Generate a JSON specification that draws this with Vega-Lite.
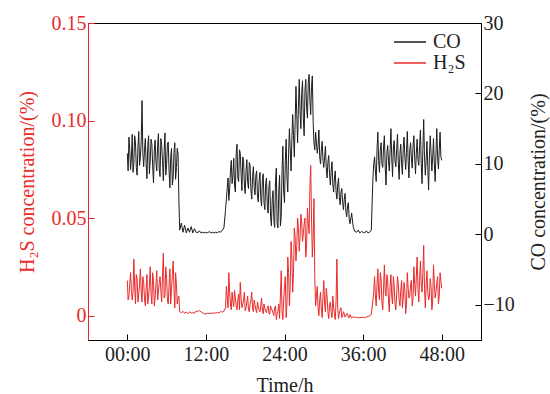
{
  "$schema": "https://vega.github.io/schema/vega-lite/v6.json",
  "width": 393,
  "height": 317,
  "autosize": "none",
  "padding": {"left": 88, "top": 23, "right": 69, "bottom": 54},
  "background": "white",
  "config": {
    "font": "Liberation Serif",
    "view": {"stroke": "black", "strokeWidth": 1},
    "axis": {"grid": false, "labelFont": "Liberation Serif", "titleFont": "Liberation Serif", "labelFontSize": 20, "titleFontSize": 20, "titleFontWeight": "normal", "tickSize": -6, "domainColor": "black", "tickColor": "black", "labelColor": "#222", "titleColor": "#222"},
    "legend": {"labelFont": "Liberation Serif"}
  },
  "data": {"values": [
    {"t":0,"co":11.5,"h":0.018},{"t":0.25,"co":13.8,"h":0.010},{"t":0.5,"co":9.2,"h":0.022},{"t":0.75,"co":14.2,"h":0.008},
    {"t":1.0,"co":10.1,"h":0.029},{"t":1.25,"co":13.0,"h":0.006},{"t":1.5,"co":8.4,"h":0.019},{"t":1.75,"co":14.6,"h":0.011},
    {"t":2.0,"co":11.0,"h":0.024},{"t":2.25,"co":19.0,"h":0.007},{"t":2.5,"co":9.6,"h":0.017},{"t":2.75,"co":13.6,"h":0.005},
    {"t":3.0,"co":7.9,"h":0.021},{"t":3.25,"co":14.0,"h":0.010},{"t":3.5,"co":10.4,"h":0.025},{"t":3.75,"co":12.8,"h":0.006},
    {"t":4.0,"co":7.3,"h":0.018},{"t":4.25,"co":13.4,"h":0.009},{"t":4.5,"co":9.0,"h":0.023},{"t":4.75,"co":14.3,"h":0.012},
    {"t":5.0,"co":8.2,"h":0.020},{"t":5.25,"co":12.6,"h":0.007},{"t":5.5,"co":7.6,"h":0.032},{"t":5.75,"co":14.4,"h":0.010},
    {"t":6.0,"co":9.9,"h":0.019},{"t":6.25,"co":13.1,"h":0.006},{"t":6.5,"co":6.6,"h":0.024},{"t":6.75,"co":12.2,"h":0.013},
    {"t":7.0,"co":8.0,"h":0.028},{"t":7.25,"co":13.0,"h":0.004},{"t":7.5,"co":9.5,"h":0.016},{"t":7.75,"co":11.4,"h":0.009},
    {"t":8.0,"co":0.6,"h":0.002},{"t":8.25,"co":1.6,"h":0.0015},{"t":8.5,"co":0.3,"h":0.0022},{"t":8.75,"co":1.3,"h":0.0012},
    {"t":9.0,"co":0.2,"h":0.0018},{"t":9.25,"co":0.9,"h":0.0010},{"t":9.5,"co":0.3,"h":0.0020},{"t":9.75,"co":1.1,"h":0.0013},
    {"t":10.0,"co":0.2,"h":0.0017},{"t":10.25,"co":0.8,"h":0.0011},{"t":10.5,"co":0.3,"h":0.0024},{"t":10.75,"co":0.2,"h":0.0021},
    {"t":11.0,"co":0.5,"h":0.0026},{"t":11.25,"co":0.2,"h":0.0019},{"t":11.5,"co":0.3,"h":0.0014},{"t":11.75,"co":0.2,"h":0.0009},
    {"t":12.0,"co":0.3,"h":0.0008},{"t":12.25,"co":0.2,"h":0.0012},{"t":12.5,"co":0.4,"h":0.0010},{"t":12.75,"co":0.2,"h":0.0013},
    {"t":13.0,"co":0.3,"h":0.0011},{"t":13.25,"co":0.2,"h":0.0015},{"t":13.5,"co":0.3,"h":0.0012},{"t":13.75,"co":0.2,"h":0.0016},
    {"t":14.0,"co":0.4,"h":0.0014},{"t":14.25,"co":0.3,"h":0.0021},{"t":14.5,"co":0.6,"h":0.0018},{"t":14.75,"co":0.9,"h":0.0023},
    {"t":15.0,"co":3.5,"h":0.0040},{"t":15.25,"co":6.5,"h":0.0100},{"t":15.5,"co":4.8,"h":0.0220},{"t":15.75,"co":9.0,"h":0.0060},
    {"t":16.0,"co":7.2,"h":0.0120},{"t":16.25,"co":10.8,"h":0.0045},{"t":16.5,"co":6.0,"h":0.0090},{"t":16.75,"co":12.8,"h":0.0030},
    {"t":17.0,"co":7.5,"h":0.0110},{"t":17.25,"co":11.5,"h":0.0170},{"t":17.5,"co":6.2,"h":0.0040},{"t":17.75,"co":10.5,"h":0.0080},
    {"t":18.0,"co":5.8,"h":0.0025},{"t":18.25,"co":10.6,"h":0.0070},{"t":18.5,"co":6.5,"h":0.0030},{"t":18.75,"co":9.8,"h":0.0060},
    {"t":19.0,"co":5.0,"h":0.0120},{"t":19.25,"co":9.6,"h":0.0020},{"t":19.5,"co":5.6,"h":0.0055},{"t":19.75,"co":9.0,"h":0.0015},
    {"t":20.0,"co":4.6,"h":0.0045},{"t":20.25,"co":8.8,"h":0.0020},{"t":20.5,"co":4.0,"h":0.0090},{"t":20.75,"co":8.6,"h":0.0010},
    {"t":21.0,"co":3.5,"h":0.0035},{"t":21.25,"co":8.0,"h":0.0015},{"t":21.5,"co":3.0,"h":0.0050},{"t":21.75,"co":7.6,"h":0.0008},
    {"t":22.0,"co":1.2,"h":0.0030},{"t":22.25,"co":6.2,"h":0.0012},{"t":22.5,"co":1.0,"h":0.0040},{"t":22.75,"co":9.4,"h":-0.0020},
    {"t":23.0,"co":0.9,"h":0.0020},{"t":23.25,"co":8.4,"h":-0.0015},{"t":23.5,"co":2.5,"h":0.0230},{"t":23.75,"co":12.5,"h":-0.0020},
    {"t":24.0,"co":4.5,"h":0.0150},{"t":24.25,"co":13.5,"h":-0.0010},{"t":24.5,"co":6.0,"h":0.0300},{"t":24.75,"co":15.0,"h":0.0050},
    {"t":25.0,"co":9.0,"h":0.0380},{"t":25.25,"co":17.0,"h":0.0120},{"t":25.5,"co":11.0,"h":0.0450},{"t":25.75,"co":21.0,"h":0.0280},
    {"t":26.0,"co":13.0,"h":0.0500},{"t":26.25,"co":22.0,"h":0.0330},{"t":26.5,"co":15.0,"h":0.0520},{"t":26.75,"co":21.8,"h":0.0380},
    {"t":27.0,"co":14.0,"h":0.0470},{"t":27.25,"co":22.0,"h":0.0300},{"t":27.5,"co":16.5,"h":0.0550},{"t":27.75,"co":22.7,"h":0.0420},
    {"t":28.0,"co":17.0,"h":0.0770},{"t":28.25,"co":22.5,"h":0.0300},{"t":28.5,"co":13.0,"h":0.0600},{"t":28.75,"co":14.5,"h":0.0050},
    {"t":29.0,"co":11.5,"h":0.0150},{"t":29.25,"co":14.8,"h":0.0000},{"t":29.5,"co":10.0,"h":0.0120},{"t":29.75,"co":13.2,"h":-0.0010},
    {"t":30.0,"co":9.5,"h":0.0180},{"t":30.25,"co":12.5,"h":0.0020},{"t":30.5,"co":8.0,"h":0.0100},{"t":30.75,"co":11.2,"h":-0.0015},
    {"t":31.0,"co":7.0,"h":0.0070},{"t":31.25,"co":10.3,"h":-0.0010},{"t":31.5,"co":6.0,"h":0.0040},{"t":31.75,"co":9.0,"h":-0.0020},
    {"t":32.0,"co":5.0,"h":0.0290},{"t":32.25,"co":8.0,"h":-0.0015},{"t":32.5,"co":4.2,"h":0.0030},{"t":32.75,"co":6.5,"h":-0.0010},
    {"t":33.0,"co":3.5,"h":0.0020},{"t":33.25,"co":5.8,"h":-0.0008},{"t":33.5,"co":2.5,"h":0.0010},{"t":33.75,"co":4.5,"h":-0.0010},
    {"t":34.0,"co":1.5,"h":0.0005},{"t":34.25,"co":3.0,"h":-0.0012},{"t":34.5,"co":1.0,"h":-0.0005},{"t":34.75,"co":0.4,"h":-0.0010},
    {"t":35.0,"co":0.3,"h":-0.0008},{"t":35.25,"co":0.6,"h":-0.0012},{"t":35.5,"co":0.2,"h":-0.0009},{"t":35.75,"co":0.4,"h":-0.0011},
    {"t":36.0,"co":0.3,"h":-0.0008},{"t":36.25,"co":0.2,"h":-0.0010},{"t":36.5,"co":0.5,"h":-0.0007},{"t":36.75,"co":0.2,"h":-0.0005},
    {"t":37.0,"co":0.3,"h":0.0000},{"t":37.25,"co":0.6,"h":0.0005},{"t":37.5,"co":8.0,"h":0.0080},{"t":37.75,"co":11.0,"h":0.0200},
    {"t":38.0,"co":7.5,"h":0.0050},{"t":38.25,"co":14.5,"h":0.0240},{"t":38.5,"co":8.8,"h":0.0080},{"t":38.75,"co":13.0,"h":0.0190},
    {"t":39.0,"co":9.5,"h":0.0030},{"t":39.25,"co":14.0,"h":0.0260},{"t":39.5,"co":7.0,"h":0.0100},{"t":39.75,"co":12.6,"h":0.0180},
    {"t":40.0,"co":9.0,"h":0.0020},{"t":40.25,"co":15.0,"h":0.0210},{"t":40.5,"co":8.2,"h":0.0060},{"t":40.75,"co":13.3,"h":0.0150},
    {"t":41.0,"co":9.6,"h":0.0030},{"t":41.25,"co":14.2,"h":0.0200},{"t":41.5,"co":7.8,"h":0.0080},{"t":41.75,"co":12.8,"h":0.0130},
    {"t":42.0,"co":8.5,"h":0.0040},{"t":42.25,"co":13.8,"h":0.0170},{"t":42.5,"co":9.2,"h":0.0010},{"t":42.75,"co":14.6,"h":0.0220},
    {"t":43.0,"co":8.0,"h":0.0090},{"t":43.25,"co":13.0,"h":0.0160},{"t":43.5,"co":9.4,"h":0.0050},{"t":43.75,"co":14.0,"h":0.0250},
    {"t":44.0,"co":8.6,"h":0.0100},{"t":44.25,"co":13.5,"h":0.0300},{"t":44.5,"co":9.8,"h":0.0070},{"t":44.75,"co":14.8,"h":0.0280},
    {"t":45.0,"co":7.2,"h":0.0120},{"t":45.25,"co":16.3,"h":0.0360},{"t":45.5,"co":8.4,"h":0.0040},{"t":45.75,"co":13.2,"h":0.0230},
    {"t":46.0,"co":6.3,"h":0.0080},{"t":46.25,"co":14.0,"h":0.0190},{"t":46.5,"co":9.0,"h":0.0030},{"t":46.75,"co":13.6,"h":0.0260},
    {"t":47.0,"co":7.5,"h":0.0090},{"t":47.25,"co":15.0,"h":0.0170},{"t":47.5,"co":9.3,"h":0.0060},{"t":47.75,"co":14.5,"h":0.0220},
    {"t":48.0,"co":10.5,"h":0.0140},
    {"t":0.125,"co":9.0,"h":0.008},{"t":0.375,"co":12.0,"h":0.016},{"t":0.625,"co":10.8,"h":0.013},{"t":0.875,"co":8.8,"h":0.012},
    {"t":1.125,"co":14.0,"h":0.015},{"t":1.375,"co":9.5,"h":0.021},{"t":1.625,"co":12.3,"h":0.007},{"t":1.875,"co":9.8,"h":0.016},
    {"t":2.125,"co":13.2,"h":0.012},{"t":2.375,"co":11.5,"h":0.020},{"t":2.625,"co":12.0,"h":0.009},{"t":2.875,"co":10.0,"h":0.014},
    {"t":3.125,"co":12.6,"h":0.006},{"t":3.375,"co":8.6,"h":0.015},{"t":3.625,"co":13.5,"h":0.011},{"t":3.875,"co":9.7,"h":0.022},
    {"t":4.125,"co":11.8,"h":0.005},{"t":4.375,"co":10.2,"h":0.016},{"t":4.625,"co":12.5,"h":0.008},{"t":4.875,"co":9.3,"h":0.017},
    {"t":5.125,"co":13.6,"h":0.013},{"t":5.375,"co":10.5,"h":0.020},{"t":5.625,"co":11.8,"h":0.009},{"t":5.875,"co":8.4,"h":0.025},
    {"t":6.125,"co":12.8,"h":0.008},{"t":6.375,"co":9.0,"h":0.015},{"t":6.625,"co":11.0,"h":0.006},{"t":6.875,"co":7.0,"h":0.021},
    {"t":7.125,"co":11.6,"h":0.014},{"t":7.375,"co":7.8,"h":0.022},{"t":7.625,"co":12.2,"h":0.006},{"t":7.875,"co":5.0,"h":0.010},
    {"t":15.125,"co":5.0,"h":0.015},{"t":15.375,"co":8.0,"h":0.004},{"t":15.625,"co":6.5,"h":0.012},{"t":15.875,"co":10.5,"h":0.003},
    {"t":16.125,"co":8.4,"h":0.007},{"t":16.375,"co":7.0,"h":0.013},{"t":16.625,"co":11.5,"h":0.005},{"t":16.875,"co":8.0,"h":0.008},
    {"t":17.125,"co":12.0,"h":0.003},{"t":17.375,"co":8.6,"h":0.009},{"t":17.625,"co":11.0,"h":0.006},{"t":17.875,"co":7.0,"h":0.012},
    {"t":18.125,"co":9.0,"h":0.004},{"t":18.375,"co":7.4,"h":0.010},{"t":18.625,"co":10.2,"h":0.002},{"t":18.875,"co":6.3,"h":0.008},
    {"t":19.125,"co":8.2,"h":0.004},{"t":19.375,"co":6.6,"h":0.008},{"t":19.625,"co":8.4,"h":0.003},{"t":19.875,"co":5.4,"h":0.007},
    {"t":20.125,"co":7.6,"h":0.003},{"t":20.375,"co":5.2,"h":0.005},{"t":20.625,"co":7.8,"h":0.002},{"t":20.875,"co":4.5,"h":0.006},
    {"t":21.125,"co":7.2,"h":0.002},{"t":21.375,"co":4.0,"h":0.004},{"t":21.625,"co":6.8,"h":0.001},{"t":21.875,"co":2.5,"h":0.005},
    {"t":22.125,"co":5.0,"h":0.003},{"t":22.375,"co":2.0,"h":0.000},{"t":22.625,"co":7.5,"h":0.005},{"t":22.875,"co":1.5,"h":0.001},
    {"t":23.125,"co":6.0,"h":0.006},{"t":23.375,"co":1.2,"h":0.010},{"t":23.625,"co":9.0,"h":0.002},{"t":23.875,"co":6.0,"h":0.008},
    {"t":24.125,"co":10.5,"h":0.020},{"t":24.375,"co":8.0,"h":0.006},{"t":24.625,"co":11.5,"h":0.022},{"t":24.875,"co":12.0,"h":0.015},
    {"t":25.125,"co":13.5,"h":0.030},{"t":25.375,"co":14.0,"h":0.022},{"t":25.625,"co":16.0,"h":0.040},{"t":25.875,"co":17.0,"h":0.036},
    {"t":26.125,"co":18.0,"h":0.045},{"t":26.375,"co":17.5,"h":0.040},{"t":26.625,"co":20.0,"h":0.048},{"t":26.875,"co":16.5,"h":0.042},
    {"t":27.125,"co":20.5,"h":0.050},{"t":27.375,"co":18.0,"h":0.036},{"t":27.625,"co":21.5,"h":0.048},{"t":27.875,"co":19.0,"h":0.065},
    {"t":28.125,"co":21.0,"h":0.050},{"t":28.375,"co":16.0,"h":0.040},{"t":28.625,"co":12.0,"h":0.020},{"t":28.875,"co":13.0,"h":0.010},
    {"t":29.125,"co":12.5,"h":0.004},{"t":29.375,"co":11.0,"h":0.008},{"t":29.625,"co":12.0,"h":0.003},{"t":29.875,"co":10.5,"h":0.010},
    {"t":30.125,"co":11.0,"h":0.006},{"t":30.375,"co":9.5,"h":0.014},{"t":30.625,"co":10.2,"h":0.002},{"t":30.875,"co":8.6,"h":0.005},
    {"t":31.125,"co":9.0,"h":0.002},{"t":31.375,"co":7.2,"h":0.010},{"t":31.625,"co":8.0,"h":0.001},{"t":31.875,"co":6.0,"h":0.008},
    {"t":32.125,"co":7.0,"h":0.004},{"t":32.375,"co":5.2,"h":0.001},{"t":32.625,"co":6.0,"h":0.004},{"t":32.875,"co":4.5,"h":0.000},
    {"t":33.125,"co":5.0,"h":0.001},{"t":33.375,"co":3.2,"h":0.000},{"t":33.625,"co":4.0,"h":0.001},{"t":33.875,"co":2.2,"h":-0.001},
    {"t":37.625,"co":10.0,"h":0.012},{"t":37.875,"co":9.0,"h":0.010},{"t":38.125,"co":12.0,"h":0.016},{"t":38.375,"co":10.5,"h":0.012},
    {"t":38.625,"co":12.0,"h":0.022},{"t":38.875,"co":10.0,"h":0.007},{"t":39.125,"co":12.5,"h":0.014},{"t":39.375,"co":9.6,"h":0.012},
    {"t":39.625,"co":11.5,"h":0.021},{"t":39.875,"co":10.5,"h":0.008},{"t":40.125,"co":12.0,"h":0.015},{"t":40.375,"co":10.8,"h":0.010},
    {"t":40.625,"co":12.4,"h":0.020},{"t":40.875,"co":10.4,"h":0.006},{"t":41.125,"co":12.0,"h":0.011},{"t":41.375,"co":10.2,"h":0.016},
    {"t":41.625,"co":11.5,"h":0.005},{"t":41.875,"co":10.0,"h":0.018},{"t":42.125,"co":12.2,"h":0.009},{"t":42.375,"co":11.0,"h":0.013},
    {"t":42.625,"co":11.6,"h":0.006},{"t":42.875,"co":10.5,"h":0.014},{"t":43.125,"co":12.0,"h":0.010},{"t":43.375,"co":10.8,"h":0.018},
    {"t":43.625,"co":12.5,"h":0.009},{"t":43.875,"co":11.0,"h":0.016},{"t":44.125,"co":11.5,"h":0.020},{"t":44.375,"co":10.6,"h":0.014},
    {"t":44.625,"co":12.5,"h":0.018},{"t":44.875,"co":10.0,"h":0.016},{"t":45.125,"co":12.0,"h":0.022},{"t":45.375,"co":11.0,"h":0.014},
    {"t":45.625,"co":10.5,"h":0.016},{"t":45.875,"co":9.5,"h":0.012},{"t":46.125,"co":11.0,"h":0.010},{"t":46.375,"co":11.5,"h":0.015},
    {"t":46.625,"co":11.0,"h":0.008},{"t":46.875,"co":10.0,"h":0.016},{"t":47.125,"co":11.5,"h":0.012},{"t":47.375,"co":11.0,"h":0.020},
    {"t":47.625,"co":12.0,"h":0.010},{"t":47.875,"co":11.0,"h":0.018}
  ]},
  "encoding": {
    "x": {"field": "t", "type": "quantitative", "scale": {"domain": [-6, 54], "nice": false, "zero": false},
      "axis": {"values": [0, 12, 24, 36, 48], "title": "Time/h", "labelExpr": "(datum.value < 10 ? '0' : '') + datum.value + ':00'", "labelPadding": 10, "titlePadding": 11}}
  },
  "layer": [
    {
      "mark": {"type": "line", "strokeWidth": 1, "interpolate": "linear"},
      "encoding": {
        "y": {"field": "co", "type": "quantitative", "scale": {"domain": [-15, 30], "nice": false, "zero": false},
          "axis": {"orient": "right", "values": [-10, 0, 10, 20, 30], "title": "CO concentration/(%)", "titleAngle": 270, "labelPadding": 8, "titlePadding": 34}},
        "color": {"datum": "CO", "type": "nominal",
          "scale": {"domain": ["CO", "H₂S"], "range": ["#1c1c1c", "#ea2a2a"]},
          "legend": {"title": null, "orient": "none", "legendX": 311, "legendY": 8, "symbolType": "M-1.6,0H1.6", "symbolSize": 400, "symbolStrokeWidth": 1.5, "labelFontSize": 20, "labelColor": "#222", "rowPadding": 0, "labelOffset": 12}}
      }
    },
    {
      "mark": {"type": "line", "strokeWidth": 1, "interpolate": "linear"},
      "encoding": {
        "y": {"field": "h", "type": "quantitative", "scale": {"domain": [-0.0125, 0.15], "nice": false, "zero": false},
          "axis": {"orient": "left", "values": [0, 0.05, 0.1, 0.15], "title": "H₂S concentration/(%)", "labelExpr": "datum.value == 0 ? '0' : format(datum.value, '.2f')", "domainColor": "#ea2a2a", "tickColor": "#ea2a2a", "labelColor": "#ea2a2a", "titleColor": "#ea2a2a", "labelPadding": 8, "titlePadding": 14}},
        "color": {"datum": "H₂S", "type": "nominal"}
      }
    }
  ],
  "resolve": {"scale": {"y": "independent"}}
}
